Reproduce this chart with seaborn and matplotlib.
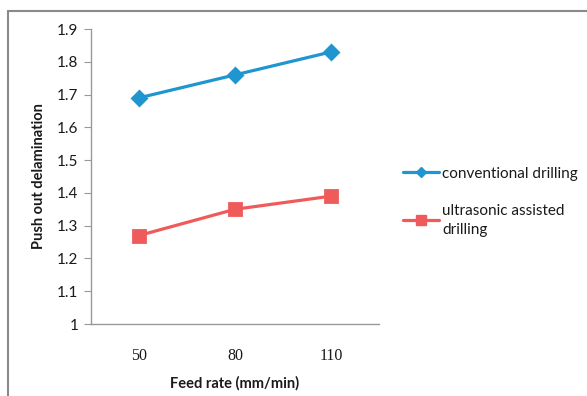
import matplotlib
matplotlib.use("Agg")
import matplotlib.pyplot as plt
from matplotlib.lines import Line2D
import seaborn as sns
import pandas as pd

# Data
feed_rates = ["50", "80", "110"]
conventional = [1.69, 1.76, 1.83]
ultrasonic = [1.27, 1.35, 1.39]
series_names = ["conventional drilling", "ultrasonic assisted\ndrilling"]
y_ticks = [1.0, 1.1, 1.2, 1.3, 1.4, 1.5, 1.6, 1.7, 1.8, 1.9]
y_tick_labels = ["1", "1.1", "1.2", "1.3", "1.4", "1.5", "1.6", "1.7", "1.8", "1.9"]

df = pd.DataFrame({
    "feed": feed_rates * 2,
    "value": conventional + ultrasonic,
    "series": [series_names[0]] * 3 + [series_names[1]] * 3,
})

sns.set_theme(style="white")
plt.rcParams["font.family"] = ["Lato", "DejaVu Sans"]

fig = plt.figure(figsize=(5.87, 3.96), dpi=100)
ax = fig.add_axes([91 / 587, 1 - 324 / 396, (379 - 91) / 587, (324 - 29) / 396])

colors = ["#1f96cf", "#ef5b5b"]
sns.pointplot(data=df, x="feed", y="value", hue="series", order=feed_rates,
              hue_order=series_names, palette=colors, markers=["D", "s"],
              linestyles=["-", "-"], errorbar=None, ax=ax, legend=False)

for line, ms in zip(ax.lines, [7, 8]):
    line.set_linewidth(2.3)
    line.set_markersize(ms)

ax.set_xlim(-0.5, 2.5)
ax.set_ylim(1.0, 1.9)
ax.set_yticks(y_ticks)
ax.set_yticklabels(y_tick_labels, fontsize=11, color="#1a1a1a")
ax.set_xticklabels(feed_rates, fontsize=11.5, family="Liberation Serif", color="#1a1a1a")
ax.tick_params(axis="y", left=True, length=5, width=0.8, color="#999999", pad=4)
ax.tick_params(axis="x", bottom=False, pad=11)

for side in ["top", "right"]:
    ax.spines[side].set_visible(False)
for side in ["left", "bottom"]:
    ax.spines[side].set_color("#999999")
    ax.spines[side].set_linewidth(1.0)

ax.set_xlabel("Feed rate (mm/min)", fontsize=10.5, fontweight="bold", labelpad=9,
              color="#1a1a1a")
ax.set_ylabel("Push out delamination", fontsize=10.5, fontweight="bold", labelpad=8,
              color="#1a1a1a")

handles = [
    Line2D([], [], color=colors[0], marker="D", markersize=5, linewidth=2.3),
    Line2D([], [], color=colors[1], marker="s", markersize=7, linewidth=2.3),
]
leg = fig.legend(handles, series_names, loc="upper left",
                 bbox_to_anchor=(395 / 587, 1 - 159 / 396), frameon=False,
                 fontsize=11, handlelength=2.4, handletextpad=0.2,
                 labelspacing=1.5, borderpad=0)
for t in leg.get_texts():
    t.set_linespacing(1.5)
    t.set_color("#1a1a1a")

# Outer frame (top and left edges)
fig.add_artist(Line2D([8 / 587, 1.0], [1 - 10.5 / 396] * 2,
                      transform=fig.transFigure, color="#8a8a8a", linewidth=1.5))
fig.add_artist(Line2D([8 / 587] * 2, [0.0, 1 - 10.5 / 396],
                      transform=fig.transFigure, color="#8a8a8a", linewidth=1.5))

fig.savefig("out.png", dpi=100)
